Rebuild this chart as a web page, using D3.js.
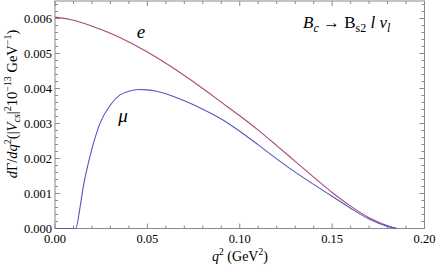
<!DOCTYPE html>
<html>
<head>
<meta charset="utf-8">
<script src="https://cdn.jsdelivr.net/npm/d3@7.9.0/dist/d3.min.js"></script>
<style>
  body { margin: 0; background: #fff; }
  svg { display: block; }
  text { font-family: "Liberation Serif", "Times New Roman", "DejaVu Serif", serif; fill: #000; }
</style>
</head>
<body>
<svg id="chart" width="436" height="267" font-family="Liberation Serif, Times New Roman, serif"></svg>
<script>
// q^2 values (GeV^2) and the two rates
const qE = [0, 0.01, 0.02, 0.03, 0.04, 0.05, 0.06, 0.07, 0.08, 0.09, 0.10, 0.11, 0.12, 0.13, 0.14, 0.15, 0.16, 0.17, 0.18, 0.185];
const rateE = [0.00604, 0.00595, 0.00578, 0.00558, 0.00533, 0.00504, 0.00472, 0.00437, 0.00400, 0.00361, 0.00322, 0.00281, 0.00237, 0.00192, 0.00147, 0.00103, 0.00064, 0.00031, 0.00008, 0];

const qMu = [0, 0.0112, 0.0136, 0.0153, 0.018, 0.0208, 0.0244, 0.03, 0.035, 0.04, 0.045, 0.05, 0.055, 0.06, 0.07, 0.08, 0.09, 0.10, 0.11, 0.12, 0.13, 0.14, 0.15, 0.16, 0.17, 0.18, 0.185];
const rateMu = [0, 0, 0.00062, 0.00119, 0.00186, 0.00243, 0.00301, 0.00353, 0.00381, 0.00392, 0.00397, 0.00396, 0.00392, 0.00385, 0.00365, 0.00341, 0.00313, 0.00278, 0.00239, 0.00199, 0.00161, 0.00126, 0.00092, 0.00058, 0.00027, 0.00006, 0];

const xTicks = [0, 0.05, 0.10, 0.15, 0.20];
const yTicks = [0, 0.001, 0.002, 0.003, 0.004, 0.005, 0.006];

const svg = d3.select('#chart');
const plotL = 55, plotR = 424.5, plotT = 1, plotB = 228.5;

let x = d3.scaleLinear().domain([0, 0.20]).range([plotL, plotR]);
let y = d3.scaleLinear().domain([0, 0.0065]).range([plotB, plotT]);

const frame = '#8a8a8a';

// frame
svg.append('rect')
  .attr('x', plotL).attr('y', plotT)
  .attr('width', plotR - plotL).attr('height', plotB - plotT)
  .attr('fill', 'none').attr('stroke', frame).attr('stroke-width', 1);

// ticks on all four sides, pointing inward
let xMinor = d3.range(0, 0.2001, 0.01);
let yMinor = d3.range(0, 0.0065, 0.0002);
let isMajorX = (v) => Math.abs(v / 0.05 - Math.round(v / 0.05)) < 1e-6;
let isMajorY = (v) => Math.abs(v / 0.001 - Math.round(v / 0.001)) < 1e-6;

let ticks = svg.append('g').attr('stroke', frame).attr('stroke-width', 1);
xMinor.forEach((v) => {
  let len = isMajorX(v) ? 5 : 3;
  let px = x(v);
  ticks.append('line').attr('x1', px).attr('x2', px).attr('y1', plotB).attr('y2', plotB - len);
  ticks.append('line').attr('x1', px).attr('x2', px).attr('y1', plotT).attr('y2', plotT + len);
});
yMinor.forEach((v) => {
  let len = isMajorY(v) ? 5 : 3;
  let py = y(v);
  ticks.append('line').attr('x1', plotL).attr('x2', plotL + len).attr('y1', py).attr('y2', py);
  ticks.append('line').attr('x1', plotR).attr('x2', plotR - len).attr('y1', py).attr('y2', py);
});

// tick labels
svg.append('g').selectAll('text').data(xTicks).join('text')
  .attr('x', (d) => x(d)).attr('y', 243)
  .attr('text-anchor', 'middle').attr('font-size', 12.5)
  .text((d) => d3.format('.2f')(d));

svg.append('g').selectAll('text').data(yTicks).join('text')
  .attr('x', 52).attr('y', (d) => y(d) + 4)
  .attr('text-anchor', 'end').attr('font-size', 12.5)
  .text((d) => d3.format('.3f')(d));

// curves
let lineE = d3.line().x((d, i) => x(qE[i])).y((d) => y(d)).curve(d3.curveMonotoneX);
let lineMu = d3.line().x((d, i) => x(qMu[i])).y((d) => y(d)).curve(d3.curveMonotoneX);

svg.append('path').attr('d', lineE(rateE))
  .attr('fill', 'none').attr('stroke', '#a9487c').attr('stroke-width', 1.1);
svg.append('path').attr('d', lineMu(rateMu))
  .attr('fill', 'none').attr('stroke', '#5656bd').attr('stroke-width', 1.1);

// curve labels
svg.append('text').attr('x', 141).attr('y', 38).attr('font-size', 19)
  .attr('font-style', 'italic').attr('text-anchor', 'middle').text('e');
svg.append('text').attr('x', 123).attr('y', 122).attr('font-size', 19)
  .attr('font-style', 'italic').attr('text-anchor', 'middle').text('μ');

// process label
let title = svg.append('text').attr('x', 303).attr('y', 28).attr('font-size', 17).attr('font-style', 'italic');
title.append('tspan').text('B');
title.append('tspan').attr('font-size', 12).attr('dy', 4).text('c');
title.append('tspan').attr('dy', -4).attr('font-style', 'normal').text(' → B');
title.append('tspan').attr('font-size', 12).attr('dy', 4).attr('font-style', 'normal').text('s2');
title.append('tspan').attr('dy', -4).text(' l ν');
title.append('tspan').attr('font-size', 12).attr('dy', 4).text('l');

// x axis title
let xt = svg.append('text').attr('x', 240).attr('y', 261).attr('text-anchor', 'middle').attr('font-size', 14);
xt.append('tspan').attr('font-style', 'italic').text('q');
xt.append('tspan').attr('font-size', 9.5).attr('dy', -6).text('2');
xt.append('tspan').attr('dy', 6).text('  (GeV');
xt.append('tspan').attr('font-size', 9.5).attr('dy', -6).text('2');
xt.append('tspan').attr('dy', 6).text(')');

// y axis title
let yt = svg.append('text').attr('transform', 'translate(17,104) rotate(-90)')
  .attr('text-anchor', 'middle').attr('font-size', 14.5);
yt.append('tspan').attr('font-style', 'italic').text('d');
yt.append('tspan').text('Γ/');
yt.append('tspan').attr('font-style', 'italic').text('dq');
yt.append('tspan').attr('font-size', 10).attr('dy', -6).text('2');
yt.append('tspan').attr('dy', 6).text('(|');
yt.append('tspan').attr('font-style', 'italic').text('V');
yt.append('tspan').attr('font-style', 'italic').attr('font-size', 10).attr('dy', 3).text('cs');
yt.append('tspan').attr('dy', -3).text('|');
yt.append('tspan').attr('font-size', 10).attr('dy', -6).text('2');
yt.append('tspan').attr('dy', 6).text('10');
yt.append('tspan').attr('font-size', 10).attr('dy', -6).text('−13');
yt.append('tspan').attr('dy', 6).text(' GeV');
yt.append('tspan').attr('font-size', 10).attr('dy', -6).text('−1');
yt.append('tspan').attr('dy', 6).text(')');
</script>
</body>
</html>
